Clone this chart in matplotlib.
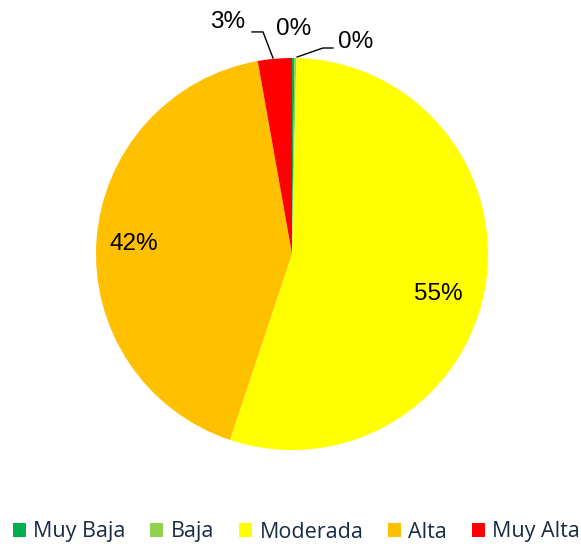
import matplotlib
matplotlib.use("Agg")
import matplotlib.pyplot as plt
import matplotlib.patches as mpatches
import numpy as np

categories = ["Muy Baja", "Baja", "Moderada", "Alta", "Muy Alta"]
values = [0.2, 0.15, 54.8, 42.1, 2.8]
labels = ["0%", "0%", "55%", "42%", "3%"]
colors = ["#00B050", "#92D050", "#FFFF00", "#FFC000", "#FF0000"]

W, H = 581, 544
fig = plt.figure(figsize=(W / 100, H / 100), dpi=100)
cx, cy, R = 292, 254, 196
ax = fig.add_axes([(cx - R) / W, (H - cy - R) / H, 2 * R / W, 2 * R / H])
ax.pie(values, colors=colors, startangle=90, counterclock=False,
       wedgeprops=dict(linewidth=0), radius=1)
ax.set_xlim(-1, 1)
ax.set_ylim(-1, 1)
ax.set_aspect("equal")
ax.axis("off")

# label positions (text centers) in pie units
label_pos = [(0.327, 1.082), (0.010, 1.148), (0.745, -0.204), (-0.806, 0.051), (-0.327, 1.184)]
for lab, (x, y) in zip(labels, label_pos):
    ax.text(x, y, lab, ha="center", va="center", fontsize=17.5,
            family="Liberation Sans", color="black", clip_on=False)

# leader lines
ax.plot([0.209, 0.158, 0.026], [1.051, 1.051, 1.005], color="black", lw=1.0, clip_on=False)
ax.plot([-0.204, -0.148, -0.097], [1.133, 1.133, 1.0], color="black", lw=1.0, clip_on=False)

handles = [mpatches.Patch(facecolor=c, edgecolor="none") for c in colors]
leg = fig.legend(handles, categories, loc="center", bbox_to_anchor=(0.5 + 6 / W, 1 - 532 / H),
                 ncol=5, frameon=False, handlelength=0.6, handleheight=0.6,
                 handletextpad=0.35, columnspacing=1.15,
                 prop=dict(family="Open Sans", size=15.5))
for t in leg.get_texts():
    t.set_color("#1A2B44")

fig.savefig("out.png", dpi=100)
